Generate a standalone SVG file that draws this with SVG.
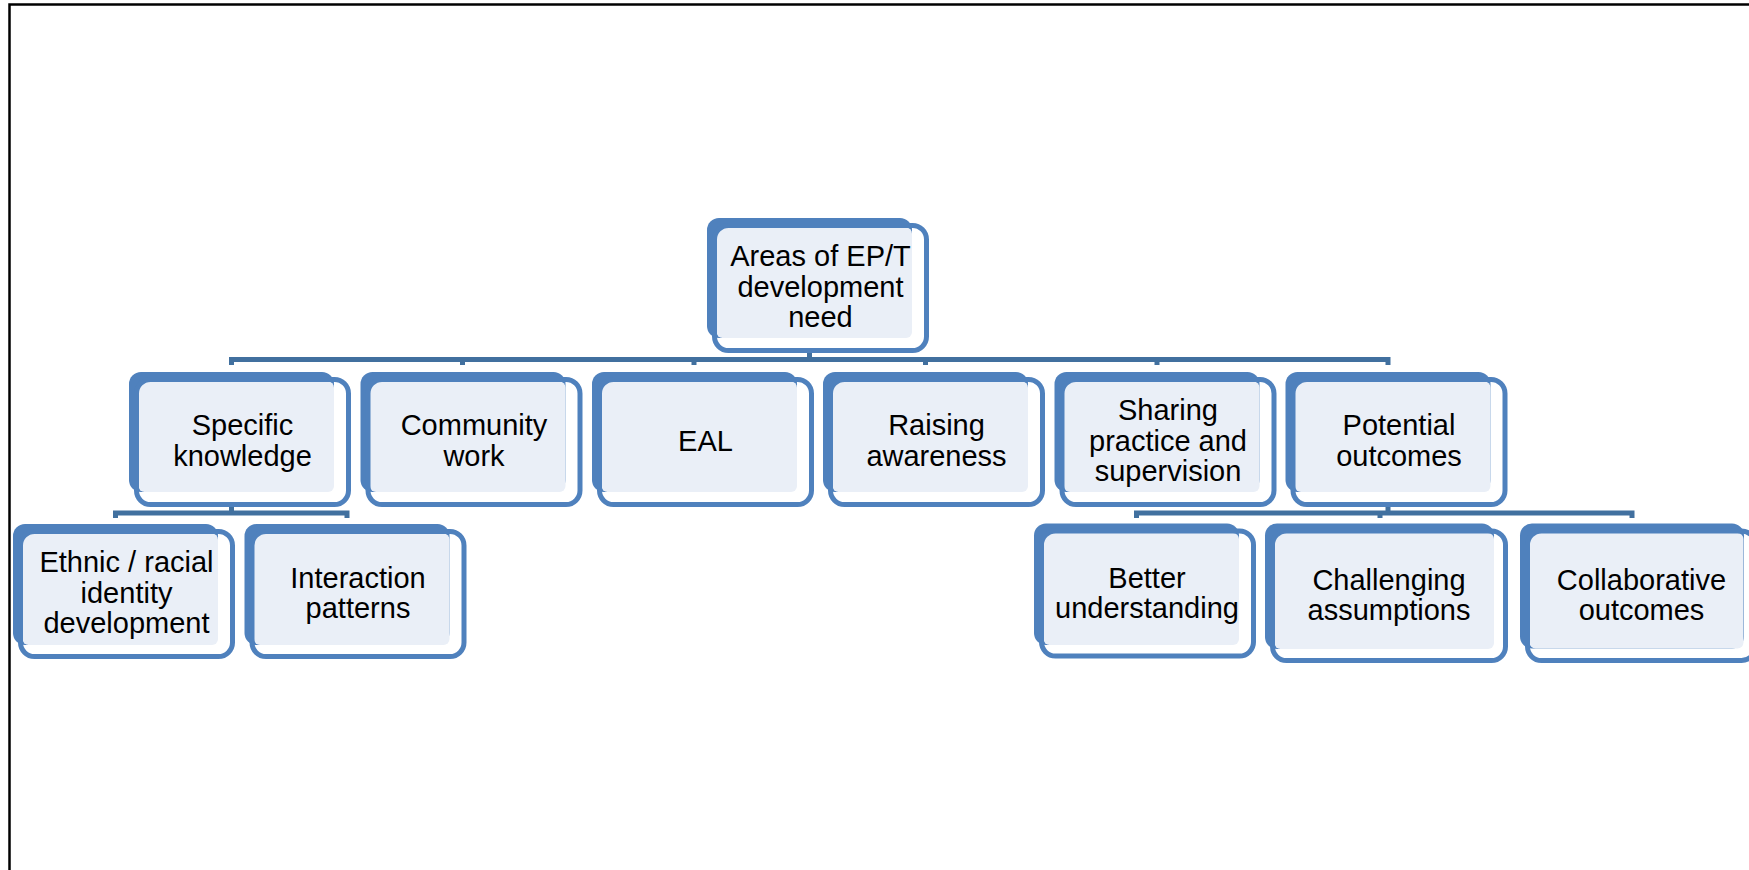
<svg xmlns="http://www.w3.org/2000/svg" width="1749" height="870" viewBox="0 0 1749 870">
  <style>
    .back { fill: #4F81BD; }
    .light { fill: #EAEFF7; }
    .front { fill: none; stroke: #4F81BD; stroke-width: 5; }
    .lbl { font-family: "Liberation Sans", Arial, sans-serif; font-size: 29px; fill: #000; text-anchor: middle; }
    .conn { fill: none; stroke: #41709F; stroke-width: 5; stroke-linejoin: miter; }
    .frame { fill: none; stroke: #000; stroke-width: 2.5; }
  </style>

  <rect width="1749" height="870" fill="#fff"/>

  <!-- page frame (top and left edges) -->
  <path class="frame" d="M9.5 870 V4.5 H1749"/>

  <!-- connectors -->
  <g id="connectors">
    <path class="conn" d="M809.5 348 V359.5 H231.5 V365 M809.5 359.5 H1388 V365 M462.5 359.5 V365 M694 359.5 V365 M925.5 359.5 V365 M1157 359.5 V365"/>
    <path class="conn" stroke-width="4.5" d="M231.5 506 V513 H115.5 V518 M231.5 513 H347 V518"/>
    <path class="conn" stroke-width="4.5" d="M1388 506 V513 H1136.5 V518 M1388 513 H1632 V518 M1380 513 V518"/>
  </g>

  <!-- root -->
  <g id="n-root">
    <rect class="back" x="707" y="218" width="205" height="120" rx="12"/>
    <rect class="light" x="716.5" y="227.5" width="195.5" height="110.5" rx="6"/>
    <rect class="front" x="714.5" y="225.5" width="212" height="125" rx="14"/>
    <text class="lbl" x="820.5" y="266">Areas of EP/T</text>
    <text class="lbl" x="820.5" y="296.5">development</text>
    <text class="lbl" x="820.5" y="327">need</text>
  </g>

  <!-- first level -->
  <g id="n-specific">
    <rect class="back" x="129" y="372" width="205" height="120" rx="12"/>
    <rect class="light" x="138.5" y="381.5" width="195.5" height="110.5" rx="6"/>
    <rect class="front" x="136.5" y="379.5" width="212" height="125" rx="14"/>
    <text class="lbl" x="242.5" y="435">Specific</text>
    <text class="lbl" x="242.5" y="465.5">knowledge</text>
  </g>
  <g id="n-community">
    <rect class="back" x="360.5" y="372" width="205" height="120" rx="12"/>
    <rect class="light" x="370" y="381.5" width="195.5" height="110.5" rx="6"/>
    <rect class="front" x="368" y="379.5" width="212" height="125" rx="14"/>
    <text class="lbl" x="474" y="435">Community</text>
    <text class="lbl" x="474" y="465.5">work</text>
  </g>
  <g id="n-eal">
    <rect class="back" x="592" y="372" width="205" height="120" rx="12"/>
    <rect class="light" x="601.5" y="381.5" width="195.5" height="110.5" rx="6"/>
    <rect class="front" x="599.5" y="379.5" width="212" height="125" rx="14"/>
    <text class="lbl" x="705.5" y="450.5">EAL</text>
  </g>
  <g id="n-raising">
    <rect class="back" x="823" y="372" width="205" height="120" rx="12"/>
    <rect class="light" x="832.5" y="381.5" width="195.5" height="110.5" rx="6"/>
    <rect class="front" x="830.5" y="379.5" width="212" height="125" rx="14"/>
    <text class="lbl" x="936.5" y="435">Raising</text>
    <text class="lbl" x="936.5" y="465.5">awareness</text>
  </g>
  <g id="n-sharing">
    <rect class="back" x="1054.5" y="372" width="205" height="120" rx="12"/>
    <rect class="light" x="1064" y="381.5" width="195.5" height="110.5" rx="6"/>
    <rect class="front" x="1062" y="379.5" width="212" height="125" rx="14"/>
    <text class="lbl" x="1168" y="420">Sharing</text>
    <text class="lbl" x="1168" y="450.5">practice and</text>
    <text class="lbl" x="1168" y="481">supervision</text>
  </g>
  <g id="n-potential">
    <rect class="back" x="1285.5" y="372" width="205" height="120" rx="12"/>
    <rect class="light" x="1295" y="381.5" width="195.5" height="110.5" rx="6"/>
    <rect class="front" x="1293" y="379.5" width="212" height="125" rx="14"/>
    <text class="lbl" x="1399" y="435">Potential</text>
    <text class="lbl" x="1399" y="465.5">outcomes</text>
  </g>

  <!-- second level -->
  <g id="n-ethnic">
    <rect class="back" x="13" y="524" width="205" height="121" rx="12"/>
    <rect class="light" x="22.5" y="533.5" width="195.5" height="111.5" rx="6"/>
    <rect class="front" x="20.5" y="531.5" width="212" height="125" rx="14"/>
    <text class="lbl" x="126.5" y="572">Ethnic / racial</text>
    <text class="lbl" x="126.5" y="602.5">identity</text>
    <text class="lbl" x="126.5" y="633">development</text>
  </g>
  <g id="n-interaction">
    <rect class="back" x="244.5" y="524" width="205" height="121" rx="12"/>
    <rect class="light" x="254" y="533.5" width="195.5" height="111.5" rx="6"/>
    <rect class="front" x="252" y="531.5" width="212" height="125" rx="14"/>
    <text class="lbl" x="358" y="587.5">Interaction</text>
    <text class="lbl" x="358" y="618">patterns</text>
  </g>
  <g id="n-better">
    <rect class="back" x="1034" y="523.5" width="205" height="121.5" rx="12"/>
    <rect class="light" x="1043.5" y="533" width="195.5" height="112" rx="6"/>
    <rect class="front" x="1041.5" y="531" width="212" height="125" rx="14"/>
    <text class="lbl" x="1147" y="587.5">Better</text>
    <text class="lbl" x="1147" y="618">understanding</text>
  </g>
  <g id="n-challenging">
    <rect class="back" x="1265" y="523.5" width="229" height="125.5" rx="12"/>
    <rect class="light" x="1274.5" y="533" width="219.5" height="116" rx="6"/>
    <rect class="front" x="1272.5" y="531" width="233" height="129.5" rx="14"/>
    <text class="lbl" x="1389" y="589.5">Challenging</text>
    <text class="lbl" x="1389" y="620">assumptions</text>
  </g>
  <g id="n-collaborative">
    <rect class="back" x="1520" y="523.5" width="224" height="125" rx="12"/>
    <rect class="light" x="1529.5" y="533" width="214" height="115.5" rx="6"/>
    <rect class="front" x="1527.5" y="531" width="228" height="129.5" rx="14"/>
    <text class="lbl" x="1641.5" y="589.5">Collaborative</text>
    <text class="lbl" x="1641.5" y="620">outcomes</text>
  </g>
</svg>
